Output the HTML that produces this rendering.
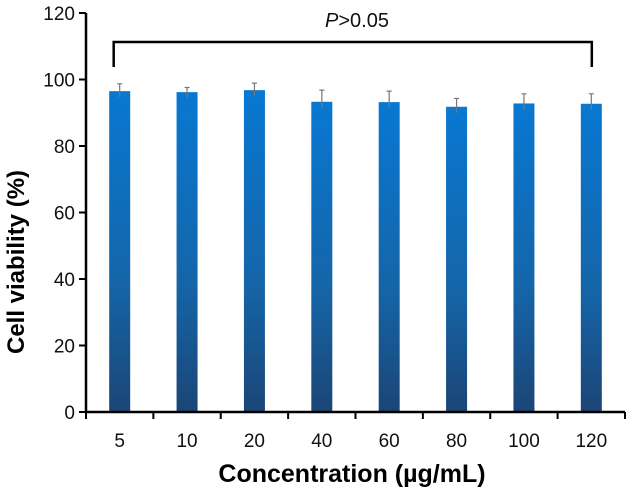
<!DOCTYPE html>
<html><head><meta charset="utf-8"><style>
body{margin:0;background:#fff}
svg text{font-family:"Liberation Sans",Arial,sans-serif}
</style></head><body>
<svg id="chart" width="628" height="489">
<defs><linearGradient id="g" x1="0" y1="0" x2="0" y2="1">
<stop offset="0" stop-color="#0878d2"/><stop offset="0.6" stop-color="#1565a8"/><stop offset="1" stop-color="#1b4576"/></linearGradient></defs>
</svg>
<script>
const categories=["5","10","20","40","60","80","100","120"];
const values=[96.5,96.2,96.8,93.3,93.2,91.8,92.8,92.7];
const errors=[2.2,1.4,2.1,3.5,3.3,2.5,2.9,3.0];
const yTicks=[0,20,40,60,80,100,120];
const svg=document.getElementById('chart');
const NS='http://www.w3.org/2000/svg';
const x0=86,x1=625,y0=412,y1=13;
const yS=v=>y0-(v/120)*(y0-y1);
const step=(x1-x0)/categories.length;
const xC=i=>x0+step*(i+0.5);
function mk(t,a){const e=document.createElementNS(NS,t);for(const k in a)e.setAttribute(k,a[k]);svg.appendChild(e);return e;}
categories.forEach((c,i)=>{
 const b=mk('rect',{x:xC(i)-10.5,y:yS(values[i]),width:21,height:y0-yS(values[i]),fill:'url(#g)'});
 
 
 const et=yS(values[i]+errors[i]);
 const e=mk('path',{d:`M${xC(i)} ${yS(values[i])+6}V${et}M${xC(i)-2.5} ${et}H${xC(i)+2.5}`,stroke:'#777','stroke-width':1.2,fill:'none'});
 
 
 const t=mk('text',{x:xC(i),y:447,'text-anchor':'middle','font-size':19,fill:'#111'});t.textContent=c;
 
 
});
for(let i=0;i<=categories.length;i++){mk('line',{x1:x0+step*i,x2:x0+step*i,y1:y0,y2:y0+7,stroke:'#000','stroke-width':2});}
yTicks.forEach(v=>{
 mk('line',{x1:x0-7,x2:x0,y1:yS(v),y2:yS(v),stroke:'#000','stroke-width':2});
 const t=mk('text',{x:x0-11,y:yS(v)+7,'text-anchor':'end','font-size':19,fill:'#111'});t.textContent=v;
 
 
});
const ax=mk('path',{d:`M${x0} ${y1}V${y0}H${x1}`,stroke:'#000','stroke-width':2.5,fill:'none'});


const br=mk('path',{d:`M${xC(0)-6} 67V42H${xC(7)+0.5}V67`,stroke:'#000','stroke-width':2.5,fill:'none'});


const p=mk('text',{x:357,y:27,'text-anchor':'middle','font-size':20,fill:'#111'});
p.innerHTML='<tspan font-style="italic">P</tspan>&gt;0.05';


const xt=mk('text',{x:352,y:482,'text-anchor':'middle','font-size':25,'font-weight':'bold',fill:'#000'});
xt.textContent='Concentration (µg/mL)';


const yt=mk('text',{x:0,y:0,'text-anchor':'middle','font-size':24,'font-weight':'bold',fill:'#000',transform:'translate(24,262) rotate(-90)'});
yt.textContent='Cell viability (%)';


</script>
</body></html>
